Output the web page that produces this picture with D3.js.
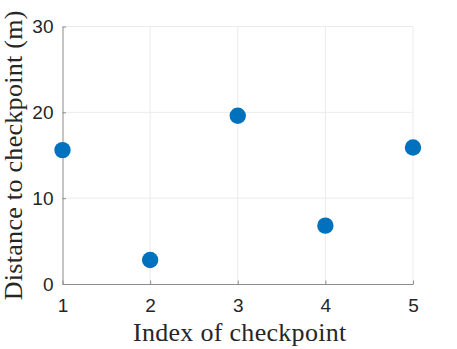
<!DOCTYPE html>
<html>
<head>
<meta charset="utf-8">
<script src="https://cdn.jsdelivr.net/npm/d3@7"></script>
<style>
  body { margin: 0; background: #fff; }
</style>
</head>
<body>
<script>
const svgWidth = 457
const svgHeight = 349

const margin = { top: 26.5, right: 44, bottom: 65, left: 62.5 }
const chartWidth = svgWidth - margin.left - margin.right
const chartHeight = svgHeight - margin.top - margin.bottom

// data
const checkpoints = [1, 2, 3, 4, 5]
const distances = [15.6, 2.8, 19.6, 6.8, 15.9]
const xTicks = [1, 2, 3, 4, 5]
const yTicks = [0, 10, 20, 30]

const colorDot = "#0072BD"
const colorAxis = "#8c8c8c"
const colorText = "#262626"
const colorGrid = "#ebebeb"

const svg = d3.select("body").append("svg")
    .attr("width", svgWidth)
    .attr("height", svgHeight)

const chartG = svg.append("g")
    .attr("transform", `translate(${margin.left}, ${margin.top})`)

const x = d3.scaleLinear().domain([1, 5]).range([0, chartWidth])
const y = d3.scaleLinear().domain([0, 30]).range([chartHeight, 0])

// grid
chartG.append("g")
    .selectAll("line")
    .data(xTicks.slice(1))
    .join("line")
    .attr("x1", d => x(d)).attr("x2", d => x(d))
    .attr("y1", 0).attr("y2", chartHeight)
    .attr("stroke", colorGrid)
chartG.append("g")
    .selectAll("line")
    .data(yTicks.slice(1))
    .join("line")
    .attr("x1", 0).attr("x2", chartWidth)
    .attr("y1", d => y(d)).attr("y2", d => y(d))
    .attr("stroke", colorGrid)

const xAxis = d3.axisBottom(x).tickValues(xTicks).tickFormat(d3.format("d"))
    .tickSizeInner(-3.5).tickSizeOuter(0).tickPadding(15)
const yAxis = d3.axisLeft(y).tickValues(yTicks).tickFormat(d3.format("d"))
    .tickSizeInner(-3.5).tickSizeOuter(0).tickPadding(9)

const gx = chartG.append("g")
    .attr("transform", `translate(0, ${chartHeight})`)
    .call(xAxis)
const gy = chartG.append("g").call(yAxis)

for (const g of [gx, gy]) {
    g.select(".domain").attr("stroke", colorAxis)
    g.selectAll(".tick line").attr("stroke", colorAxis)
    g.selectAll(".tick text")
        .attr("fill", colorText)
        .style("font-family", "'Liberation Sans', Arial, sans-serif")
        .style("font-size", "19px")
}

// points
chartG.selectAll("circle")
    .data(checkpoints)
    .join("circle")
    .attr("cx", (d) => x(d))
    .attr("cy", (d, i) => y(distances[i]))
    .attr("r", 8.2)
    .attr("fill", colorDot)

// labels
svg.append("text")
    .attr("x", margin.left + chartWidth / 2 + 2)
    .attr("y", 341)
    .attr("text-anchor", "middle")
    .attr("fill", colorText)
    .style("font-family", "'Liberation Serif', serif")
    .style("font-size", "26px")
    .style("letter-spacing", "0.3px")
    .text("Index of checkpoint")

svg.append("text")
    .attr("transform", `translate(22, ${margin.top + chartHeight / 2}) rotate(-90)`)
    .attr("text-anchor", "middle")
    .attr("fill", colorText)
    .style("font-family", "'Liberation Serif', serif")
    .style("font-size", "26px")
    .style("letter-spacing", "0.3px")
    .text("Distance to checkpoint (m)")
</script>
</body>
</html>
